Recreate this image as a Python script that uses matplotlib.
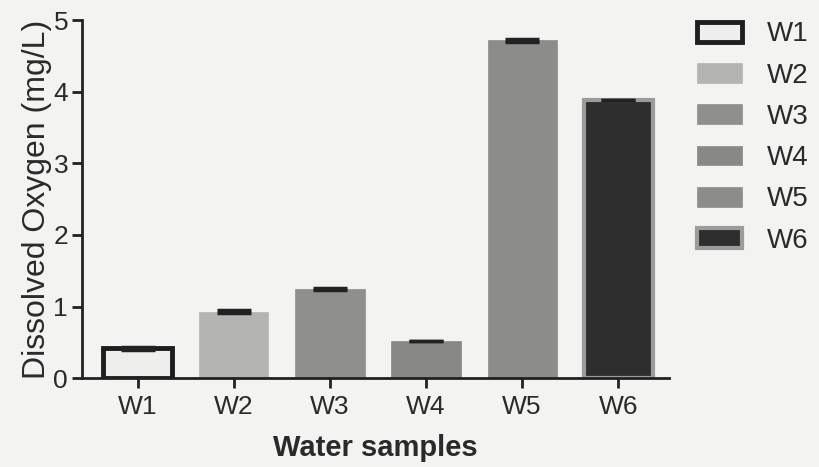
import matplotlib
matplotlib.use("Agg")
import matplotlib.pyplot as plt
import numpy as np

# Data
samples = ["W1", "W2", "W3", "W4", "W5", "W6"]
oxygen = [0.42, 0.93, 1.25, 0.52, 4.72, 3.88]
errors = [0.02, 0.02, 0.015, 0.0, 0.02, 0.0]

fills = ["#eeeeec", "#b4b4b2", "#8f8f8d", "#888886", "#8c8c8a", "#2e2e2e"]
edges = ["#1e1e1e", "#b4b4b2", "#8f8f8d", "#888886", "#8c8c8a", "#9c9c9a"]
widths = [3.5, 0.5, 0.5, 0.5, 0.5, 3]

plt.rcParams["font.family"] = ["Liberation Sans", "DejaVu Sans"]
bg = "#f3f3f1"
ink = "#2a2a2a"

fig = plt.figure(figsize=(8.2, 4.67), dpi=100, facecolor=bg)
ax = fig.add_axes([0.1, 0.19, 0.716, 0.767], facecolor=bg)

x = np.arange(len(samples))
bars = ax.bar(x, oxygen, width=0.72, color=fills, edgecolor=edges,
              linewidth=widths, zorder=2)

ax.errorbar(x, oxygen, yerr=errors, fmt="none", ecolor="#222222",
            elinewidth=1.5, capsize=12, capthick=2.5, zorder=3)

ax.set_xlim(-0.58, 5.53)
ax.set_ylim(0, 5)
ax.set_xticks(x)
ax.set_xticklabels(samples)
ax.set_yticks([0, 1, 2, 3, 4, 5])

for s in ["top", "right"]:
    ax.spines[s].set_visible(False)
for s in ["left", "bottom"]:
    ax.spines[s].set_linewidth(2)
    ax.spines[s].set_color("#222222")

ax.tick_params(axis="both", width=2, length=7, color="#222222",
               labelsize=19, labelcolor=ink)
ax.tick_params(axis="x", pad=5)
ax.tick_params(axis="y", pad=3)

ax.set_ylabel("Dissolved Oxygen (mg/L)", fontsize=23, color=ink,
              labelpad=1)
ax.set_xlabel("Water samples", fontsize=21, fontweight="bold",
              color=ink, labelpad=11)

fig.legend(handles=list(bars), labels=samples, loc="upper left",
           bbox_to_anchor=(0.830, 0.99), frameon=False, fontsize=20,
           borderpad=0.1, handlelength=1.6, handleheight=0.72,
           handletextpad=0.9, labelspacing=0.55, labelcolor=ink)

fig.savefig("out.png", dpi=100, facecolor=bg)
